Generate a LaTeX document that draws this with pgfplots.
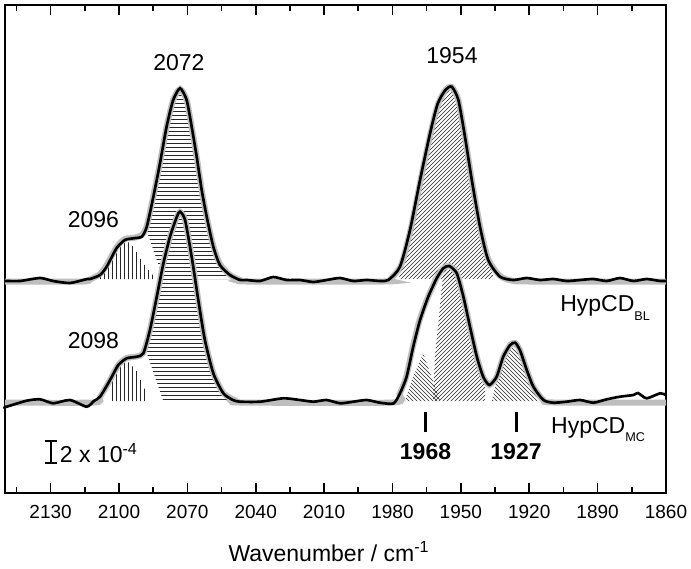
\documentclass[border=0pt]{standalone}
\usepackage{pgfplots}
\pgfplotsset{compat=1.18}
\usepackage{fontspec}
\setmainfont{Liberation Sans}
\usetikzlibrary{patterns,calc}
\newcommand\tfont{\fontsize{14.25}{17}\selectfont}
\newcommand\lfont{\fontsize{17.25}{20}\selectfont}
\newcommand\sfont{\fontsize{9.5}{10}\selectfont}
\definecolor{fitgray}{RGB}{190,190,190}
\definecolor{hatch}{RGB}{40,40,40}
\begin{document}
\begin{tikzpicture}
\begin{axis}[
  scale only axis, width=495.75pt, height=366pt,
  xmin=1860, xmax=2150, x dir=reverse,
  ymin=0, ymax=488,
  xtick={1860,1890,...,2130},
  minor xtick={1875,1905,1935,1965,1995,2025,2055,2085,2115,2145},
  ytick=\empty,
  tick align=inside,
  major tick length=7.5pt, minor tick length=4.5pt,
  axis line style={line width=1.5pt},
  every tick/.style={black, line width=1.2pt},
  xticklabel style={font=\tfont, yshift=-5.5pt},
  /pgf/number format/assume math mode=true,
  /pgf/number format/1000 sep={},
  xlabel={\lfont Wavenumber / cm\textsuperscript{-1}},
  xlabel style={at={(rel axis cs:0.49,-0.12)}, anchor=center},
  clip=false,
]
% ---- hatched components, upper (BL) ----
\addplot[draw=none, pattern=vertical lines, pattern color=hatch] coordinates {
(2109,214) (2108.3,218) (2105.4,226) (2101,244) (2097.4,252) (2095,250) (2093,244) (2091,236) (2089,229) (2087,223) (2085,218) (2085,214)} -- cycle;
\addplot[draw=none, pattern=horizontal lines, pattern color=hatch] coordinates {
(2080.5,214) (2087.8,262) (2084.9,296) (2082,329) (2079.1,365) (2076.2,392) (2073.2,403) (2070.3,392) (2068.1,365) (2065.9,335) (2063.7,302) (2061.5,275) (2058.6,245) (2055.7,228) (2053,220) (2051.3,216) (2050,214)} -- cycle;
\addplot[draw=none, pattern=north east lines, pattern color=hatch] coordinates {
(1977,214) (1976.7,226) (1972.3,263) (1967.9,313) (1963.5,359) (1960.2,388) (1956.8,402) (1954,405) (1951.1,392) (1948.2,356) (1945.2,313) (1941.6,266) (1938,233) (1935.8,218) (1935.8,214)} -- cycle;
% ---- hatched components, lower (MC) ----
\addplot[draw=none, pattern=vertical lines, pattern color=hatch] coordinates {
(2104,92) (2103.9,113) (2100.3,127) (2097.5,133) (2095.2,130) (2092.2,122) (2089.3,107) (2087.7,100) (2087.7,92)} -- cycle;
\addplot[draw=none, pattern=horizontal lines, pattern color=hatch] coordinates {
(2080.7,93) (2087.8,140) (2086.4,162) (2083.4,196) (2080.5,229) (2077.6,255) (2074.6,275) (2073.2,280) (2071,272) (2068.1,236) (2065.2,193) (2062.3,153) (2058.6,120) (2054.2,100) (2051.3,94) (2051,93)} -- cycle;
\addplot[draw=none, pattern=north west lines, pattern color=hatch] coordinates {
(1974.5,92) (1971,116) (1966.5,139.7) (1963.5,120) (1959.1,92)} -- cycle;
\addplot[draw=none, pattern=north east lines, pattern color=hatch] coordinates {
(1962.2,92) (1961.4,136) (1959.9,169) (1958.2,210) (1957,224) (1955.1,226) (1951.8,219) (1948.9,196) (1946,166) (1943,136) (1940.2,116) (1939.4,110) (1939.4,92)} -- cycle;
\addplot[draw=none, pattern=north west lines, pattern color=hatch] coordinates {
(1936.5,92) (1934.3,112) (1931.4,134) (1928.4,146) (1926.2,149.5) (1924.1,142) (1921.1,122) (1918.2,105) (1915.3,96) (1914.5,92)} -- cycle;
% ---- fitted curves (gray) ----
\addplot[fitgray, line width=4.5pt, smooth, tension=0.4] coordinates {
(2150,211.5) (2116,211.5) (2112.7,213.5) (2108.3,219) (2105.4,228) (2101,246) (2097.4,254) (2093.7,255) (2090,258) (2087.8,267) (2084.9,297) (2082,330) (2079.1,366) (2076.2,393) (2073.2,404) (2070.3,393) (2068.1,366) (2065.9,336) (2063.7,303) (2061.5,276) (2058.6,247) (2055.7,229) (2051.3,218) (2046.9,213) (2044,211.5) (1984,211.5) (1981.3,213) (1976.2,228) (1971.8,266) (1967.4,316) (1963.2,361) (1960,389) (1956.8,403) (1954,406) (1951.1,393) (1948.2,356) (1945.2,313) (1941.6,267) (1938,234) (1932.8,217) (1927,212) (1920,211.5) (1860,211.5)};
\addplot[fitgray, line width=4.5pt, smooth, tension=0.4] coordinates {
(2150,90.5) (2111,90.5) (2108.3,96) (2103.9,113) (2100.3,128) (2096.6,135) (2092.2,136.5) (2089.3,140) (2086.4,163) (2083.4,196) (2080.5,230) (2077.6,256) (2074.6,276) (2073.2,281) (2071,273) (2068.1,236) (2065.2,193) (2062.3,153) (2058.6,120) (2054.2,100) (2049,92.5) (2046.9,90.5) (1980,90.5) (1976.9,99) (1974,116) (1971.1,146) (1968.1,173) (1964.4,196) (1960.6,215) (1957.7,225) (1955.1,227) (1951.8,220) (1948.9,196) (1946,166) (1943,136) (1940.2,116) (1937.5,108) (1934.3,116) (1931.4,136) (1928.4,148) (1926.2,150) (1924.1,143) (1921.1,123) (1918.2,106) (1913.8,93) (1909.4,90.5) (1860,90.5)};
% ---- measured spectra (black) ----
\addplot[black, line width=2pt, smooth, tension=0.4] coordinates {
(2150,212) (2149.3,212) (2143.4,212) (2134.6,215) (2128.9,212) (2121.5,210) (2114,214) (2112.7,214) (2108.3,218) (2105.4,226.3) (2101,245) (2097.4,253) (2093.7,254.7) (2090,256.3) (2087.8,266.3) (2084.9,296.3) (2082,329.7) (2079.1,366.3) (2076.2,393) (2073.2,404.7) (2070.3,393) (2068.1,366.3) (2065.9,336.3) (2063.7,303) (2061.5,276.3) (2058.6,246.3) (2055.7,228) (2051.3,218) (2046.9,213) (2044,213) (2038.1,212) (2032.3,216) (2026.4,213) (2020.6,213) (2014.7,211) (2008.9,213) (2003,215) (1997.2,212) (1991.3,213) (1985.5,212) (1981.8,213) (1976.7,226.3) (1972.3,263) (1967.9,313) (1963.5,359.7) (1960.2,389) (1956.8,403) (1954,406.3) (1951.1,393) (1948.2,356.3) (1945.2,313) (1941.6,266.3) (1938,233) (1932.8,216.3) (1927,213) (1921.1,215) (1915.3,213) (1909.4,214) (1903.6,212) (1897.7,213) (1891.9,214) (1886,212) (1880.2,215) (1874.3,212) (1868.5,214) (1862.6,212) (1860,212)};
\addplot[black, line width=2pt, smooth, tension=0.4] coordinates {
(2150,86.3) (2149.3,86.3) (2140.5,92.3) (2134.6,93.7) (2128.8,89.7) (2121.5,93) (2114.2,86.3) (2111,92) (2108.3,96.3) (2103.9,113) (2100.3,128) (2096.6,134.7) (2092.2,136.3) (2089.3,139.7) (2086.4,163) (2083.4,196.3) (2080.5,229.7) (2077.6,256.3) (2074.6,276.3) (2073.2,281.3) (2071,273) (2068.1,236.3) (2065.2,193) (2062.3,153) (2058.6,119.7) (2054.2,99.7) (2050,93) (2046.9,91.3) (2038.1,91.3) (2027.9,94.7) (2020.6,93) (2014.7,91.3) (2008.9,93) (2003,89.7) (1997.2,91.3) (1991.3,93) (1985.5,90.3) (1979.6,89.5) (1976.7,99.7) (1973.8,116.3) (1970.9,146.3) (1967.9,173) (1964.3,196.3) (1960.6,214.7) (1957.7,224.7) (1955.1,227) (1951.8,219.7) (1948.9,196.3) (1946,166.3) (1943,136.3) (1940.2,116.3) (1937.5,108) (1934.3,116.3) (1931.4,136.3) (1928.4,148) (1926.2,150.3) (1924.1,143) (1921.1,123) (1918.2,106.3) (1913.8,93) (1909.4,90.3) (1903.6,91.3) (1897.7,93) (1891.9,90.3) (1886,93.7) (1880.2,96.3) (1874.3,98) (1872.3,100) (1868.5,94.7) (1862.6,99.7) (1860,98)};
% ---- peak position markers ----
\addplot[black, line width=2.25pt] coordinates {(1965.5,60.7) (1965.5,81.3)};
\addplot[black, line width=2.25pt] coordinates {(1925.8,60.7) (1925.8,81.3)};
% ---- scale bar ----
\addplot[black, line width=1.5pt] coordinates {(2129.8,30) (2129.8,52)};
\addplot[black, line width=1.5pt] coordinates {(2132.6,30) (2127,30)};
\addplot[black, line width=1.5pt] coordinates {(2132.6,52) (2127,52)};
% ---- annotations ----
\node[font=\lfont] at (axis cs:2073.7,430) {2072};
\node[font=\lfont] at (axis cs:1953.9,437) {1954};
\node[font=\lfont] at (axis cs:2111.2,273.5) {2096};
\node[font=\lfont] at (axis cs:2111.2,152.5) {2098};
\node[font=\lfont\bfseries] at (axis cs:1965.5,41) {1968};
\node[font=\lfont\bfseries] at (axis cs:1925.8,41) {1927};
\node[font=\lfont, anchor=base west, inner sep=0pt] at (axis cs:1906.5,181.3) {HypCD\raisebox{-6.5pt}{\sfont BL}};
\node[font=\lfont, anchor=base west, inner sep=0pt] at (axis cs:1910.5,60) {HypCD\raisebox{-6.5pt}{\sfont MC}};
\node[font=\lfont, anchor=west, inner sep=0pt] at (axis cs:2126,40) {2 x 10\textsuperscript{-4}};
\end{axis}
\pgfresetboundingbox
\path ($(current axis.south west)+(-3.75pt,-56.25pt)$) rectangle ($(current axis.north east)+(18.75pt,3.75pt)$);
\end{tikzpicture}
\end{document}
